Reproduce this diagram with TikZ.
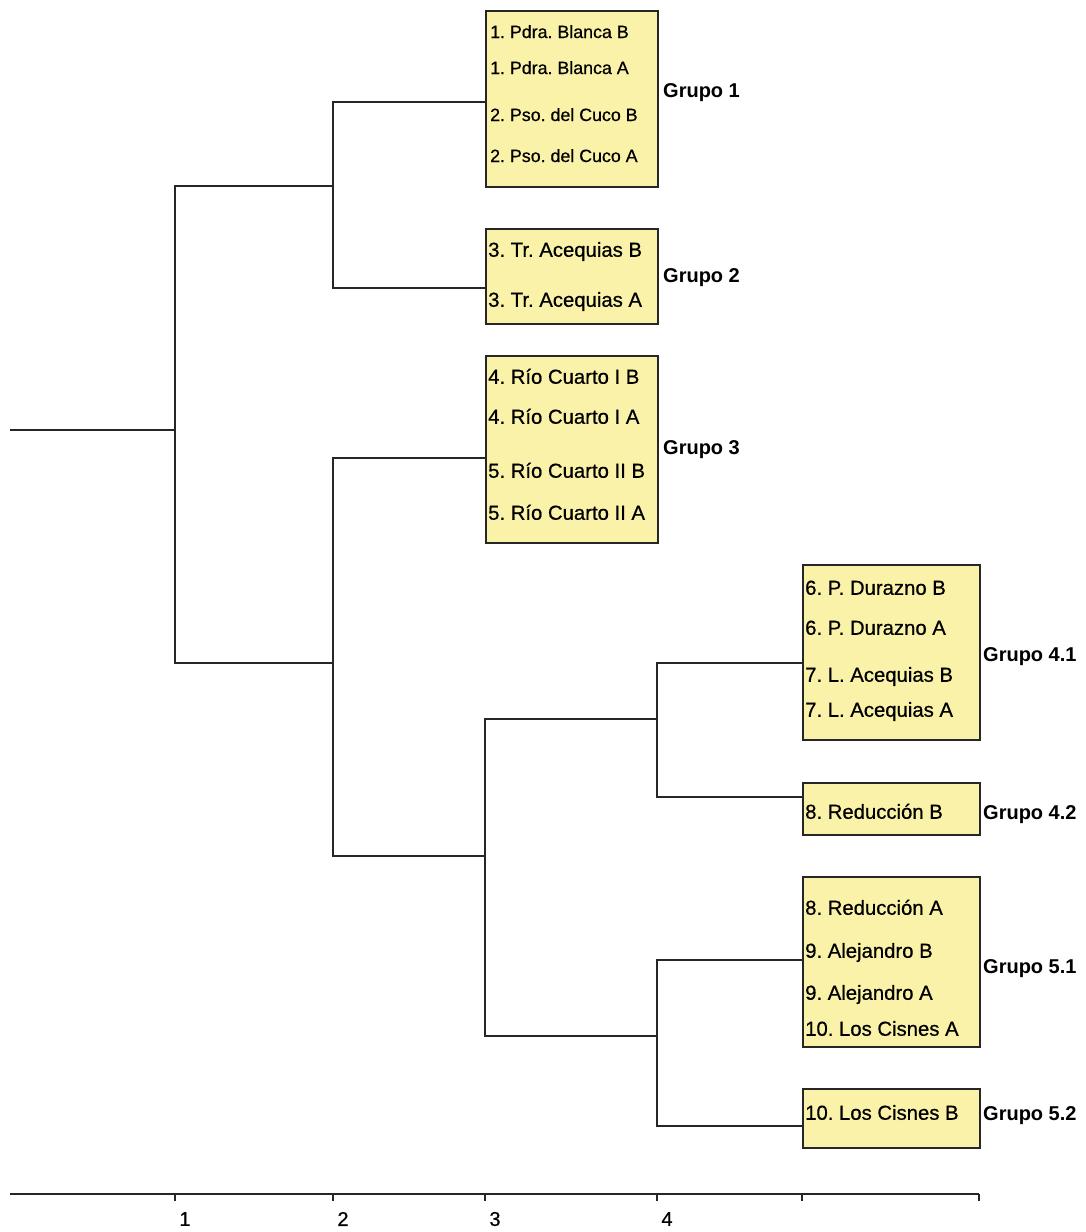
\documentclass[tikz,border=0pt]{standalone}
\usepackage{fontspec}
\setmainfont{Liberation Sans}
\newfontfamily\scanfont[FakeBold=0.6]{Liberation Sans}
\definecolor{boxyellow}{RGB}{250,242,168}
\tikzset{
  grp/.style={draw=black!85,line width=2pt,fill=boxyellow,anchor=north west,inner sep=0pt},
  item/.style={anchor=west,inner sep=0pt,text height=13.5pt,text depth=0pt,font=\scanfont\fontsize{20.3}{21}\selectfont},
  smallitem/.style={item,text height=12pt,font=\scanfont\fontsize{17.8}{18}\selectfont},
  glabel/.style={anchor=west,inner sep=0pt,text height=14pt,text depth=0pt,font=\fontsize{20}{20}\selectfont\bfseries},
  link/.style={line width=2pt,black!85},
  ticklabel/.style={inner sep=0pt,font=\scanfont\fontsize{20}{20}\selectfont}
}
\begin{document}
\frenchspacing
\begin{tikzpicture}[x=1pt,y=-1pt]
  \useasboundingbox (0,0) rectangle (1086,1232);

  % group boxes
  \node[grp,minimum width=172,minimum height=176] (g1) at (485,10) {};
  \node[grp,minimum width=172,minimum height=95] (g2) at (485,228) {};
  \node[grp,minimum width=172,minimum height=187] (g3) at (485,355) {};
  \node[grp,minimum width=177,minimum height=175] (g41) at (802,564) {};
  \node[grp,minimum width=177,minimum height=52] (g42) at (802,782) {};
  \node[grp,minimum width=177,minimum height=170] (g51) at (802,876) {};
  \node[grp,minimum width=177,minimum height=59] (g52) at (802,1088) {};

  \foreach \y/\t [count=\i] in {32/1. Pdra. Blanca B,68/1. Pdra. Blanca A,115/2. Pso. del Cuco B,156/2. Pso. del Cuco A}
    \node[smallitem] (a\i) at (490,\y) {\t};
  \foreach \y/\t [count=\i] in {250/3. Tr. Acequias B,300/3. Tr. Acequias A,
      377/4. Río Cuarto I B,417/4. Río Cuarto I A,471/5. Río Cuarto II B,513/5. Río Cuarto II A}
    \node[item] (b\i) at (488,\y) {\t};
  \foreach \y/\t [count=\i] in {588/6. P. Durazno B,628/6. P. Durazno A,675/7. L. Acequias B,710/7. L. Acequias A,
      812/8. Reducción B,
      908/8. Reducción A,951/9. Alejandro B,993/9. Alejandro A,1029/10. Los Cisnes A,
      1113/10. Los Cisnes B}
    \node[item] (c\i) at (805,\y) {\t};

  \node[glabel] (l1) at (663,90) {Grupo 1};
  \node[glabel] (l2) at (663,275) {Grupo 2};
  \node[glabel] (l3) at (663,447) {Grupo 3};
  \node[glabel] (l41) at (983,654) {Grupo 4.1};
  \node[glabel] (l42) at (983,812) {Grupo 4.2};
  \node[glabel] (l51) at (983,966) {Grupo 5.1};
  \node[glabel] (l52) at (983,1113) {Grupo 5.2};

  % dendrogram
  \coordinate (k1) at (g1.west |- 0,102);
  \coordinate (k2) at (g2.west |- 0,288);
  \coordinate (k3) at (g3.west |- 0,458);
  \coordinate (k41) at (g41.west |- 0,663);
  \coordinate (k42) at (g42.west |- 0,797);
  \coordinate (k51) at (g51.west |- 0,960);
  \coordinate (k52) at (g52.west |- 0,1126);
  \coordinate (n12) at (333,186);
  \coordinate (n345) at (333,663);
  \coordinate (n45) at (485,856);
  \coordinate (n4) at (657,719);
  \coordinate (n5) at (657,1036);
  \coordinate (root) at (175,430);
  \coordinate (start) at (10,430);

  \draw[link] (k1) -| (n12) |- (k2);
  \draw[link] (k3) -| (n345) |- (n45);
  \draw[link] (k41) -| (n4) |- (k42);
  \draw[link] (k51) -| (n5) |- (k52);
  \draw[link] (n4) -| (n45) |- (n5);
  \draw[link] (n12) -| (root) |- (n345);
  \draw[link] (start) -- (root);

  % axis
  \coordinate (ax0) at (10,1194);
  \coordinate (ax1) at (979,1194);
  \draw[link] (ax0) -- (ax1);
  \foreach \x in {175,333,485,657,802,979}
    \draw[link] (\x,1194) -- ++(0,7);
  \foreach \x/\l in {175/1,333/2,485/3,657/4}
    \node[ticklabel] (t\l) at (\x+10,1219) {\l};
\end{tikzpicture}
\end{document}
